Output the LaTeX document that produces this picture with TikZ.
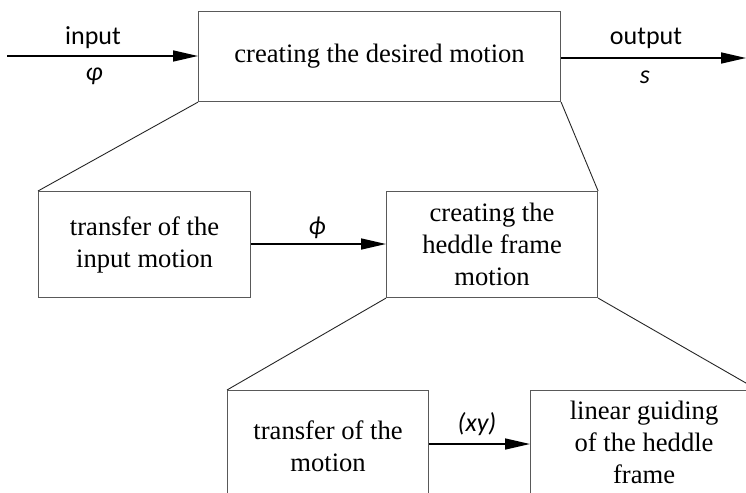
\documentclass[tikz,border=0pt]{standalone}
\usepackage{fontspec}
\setmainfont{Liberation Serif}
\newfontfamily\lblfont{Carlito}
\usetikzlibrary{arrows.meta}
\tikzset{
  boxnode/.style={draw=black!65, line width=1.1pt, anchor=north west, align=center, inner sep=0pt,
    font=\fontsize{26.6}{32}\selectfont},
  flow/.style={line width=1.6pt, -{Triangle[length=25pt,width=11pt]}},
  link/.style={line width=0.9pt, draw=black!85},
  lbl/.style={font=\lblfont\fontsize{26}{30}\selectfont, inner sep=0pt},
}
\begin{document}
\begin{tikzpicture}[x=1pt,y=-1pt]
\useasboundingbox (0,0) rectangle (746,492);
\clip (0,0) rectangle (746,492);
\node[boxnode, minimum width=362pt, minimum height=90pt] (top) at (198,11) {creating the desired motion};
\node[boxnode, minimum width=212pt, minimum height=106pt] (ml) at (38,191) {transfer of the\\input motion};
\node[boxnode, minimum width=211pt, minimum height=106pt] (mr) at (386,191) {creating the\\heddle frame\\motion};
\node[boxnode, minimum width=201pt, minimum height=112pt] (bl) at (227,390) {transfer of the\\motion};
\node[boxnode, minimum width=227pt, minimum height=104pt] (br) at (530,390) {linear guiding\\of the heddle\\frame};

\coordinate (in) at (7,56);
\coordinate (out) at (746,58);
\draw[flow] (in) -- (top.west |- in);
\draw[flow] (top.east |- out) -- (out);
\node[lbl] (tin) at (93,38) {input};
\node[lbl] (tphi) at (94,76) {\itshape φ};
\node[lbl] (tout) at (646,38) {output};
\node[lbl] (ts) at (645,77) {\itshape s};

\draw[flow] (ml.east |- 0,244) -- (mr.west |- 0,244);
\node[lbl] (tphi2) at (317,228) {\itshape ϕ};
\draw[flow] (bl.east |- 0,444) -- (br.west |- 0,444);
\node[lbl] (txy) at (477,424) {\itshape (xy)};

\draw[link] (top.south west) -- (ml.north west);
\draw[link] (top.south east) -- (mr.north east);
\draw[link] (mr.south west) -- (bl.north west);
\draw[link] (mr.south east) -- (br.north east);
\end{tikzpicture}
\end{document}
